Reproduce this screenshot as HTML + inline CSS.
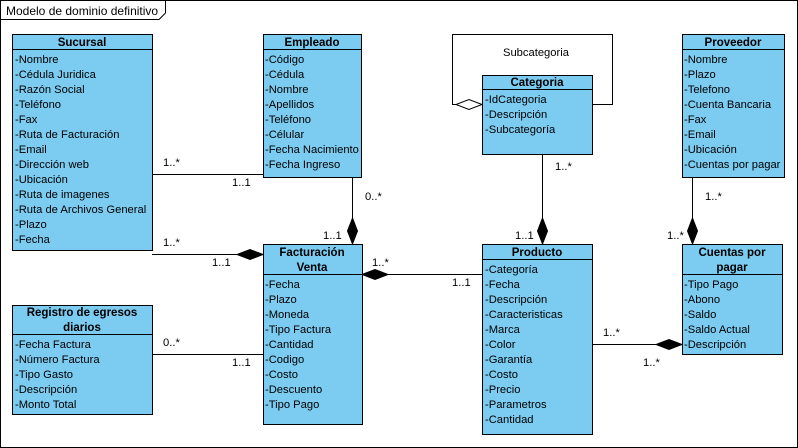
<!DOCTYPE html>
<html><head><meta charset="utf-8"><style>
html,body{margin:0;padding:0;background:#fff;}
svg{display:block;}
text{font-family:"Liberation Sans",Arial,sans-serif;font-size:11.2px;fill:#000;}
.t{font-size:12px;}
.h{font-weight:bold;text-anchor:middle;font-size:11.5px;}
.b{fill:#7ccbf0;stroke:#000;stroke-width:1;}
.l{stroke:#000;stroke-width:1;fill:none;}
.d{fill:#000;stroke:#000;}
</style></head><body>
<svg width="798" height="448" viewBox="0 0 798 448" xmlns="http://www.w3.org/2000/svg">
<rect x="0.5" y="0.5" width="797" height="447" fill="#fff" stroke="#000"/>
<path d="M0.5 19.5 H159 L165.5 13 V0.5" class="l"/>
<text class="t" x="6" y="15">Modelo de dominio definitivo</text>

<line x1="152" y1="174.5" x2="263" y2="174.5" class="l"/>
<line x1="152" y1="254.5" x2="263" y2="254.5" class="l"/>
<polygon points="263,254.5 250,249.5 237,254.5 250,259.5" class="d"/>
<line x1="352.5" y1="177" x2="352.5" y2="244" class="l"/>
<polygon points="352.5,244 347.5,231 352.5,218 357.5,231" class="d"/>
<line x1="152" y1="354.5" x2="263" y2="354.5" class="l"/>
<line x1="362" y1="274.5" x2="482" y2="274.5" class="l"/>
<polygon points="362,274.5 375,269.5 388,274.5 375,279.5" class="d"/>
<line x1="542.5" y1="154" x2="542.5" y2="244" class="l"/>
<polygon points="542.5,244 537.5,231 542.5,218 547.5,231" class="d"/>
<line x1="692.5" y1="177" x2="692.5" y2="244" class="l"/>
<polygon points="692.5,244 687.5,231 692.5,218 697.5,231" class="d"/>
<line x1="592" y1="344.5" x2="682" y2="344.5" class="l"/>
<polygon points="682,344.5 669,339.5 656,344.5 669,349.5" class="d"/>
<path d="M456 104.5 H452.5 V34.5 H612.5 V104.5 H592" class="l"/>
<polygon points="482,104.5 469,99.5 456,104.5 469,109.5" fill="#fff" stroke="#000"/>
<text x="503" y="56">Subcategoria</text>

<text x="163" y="166">1..*</text><text x="232" y="186">1..1</text>
<text x="163" y="246">1..*</text><text x="212" y="266">1..1</text>
<text x="365" y="200">0..*</text><text x="323" y="239">1..1</text>
<text x="163" y="346">0..*</text><text x="232" y="366">1..1</text>
<text x="372" y="266">1..*</text><text x="452" y="286">1..1</text>
<text x="555" y="170">1..*</text><text x="515" y="239">1..1</text>
<text x="705" y="200">1..*</text><text x="667" y="239">1..*</text>
<text x="603" y="336">1..*</text><text x="643" y="366">1..*</text>

<rect x="12.5" y="34.5" width="140" height="216" class="b"/>
<line x1="12.5" y1="49.5" x2="152.5" y2="49.5" class="l"/>
<text class="h" x="82" y="46">Sucursal</text>
<text x="15" y="63">-Nombre</text><text x="15" y="78">-Cédula Juridica</text><text x="15" y="93">-Razón Social</text>
<text x="15" y="108">-Teléfono</text><text x="15" y="123">-Fax</text><text x="15" y="138">-Ruta de Facturación</text>
<text x="15" y="153">-Email</text><text x="15" y="168">-Dirección web</text><text x="15" y="183">-Ubicación</text>
<text x="15" y="198">-Ruta de imagenes</text><text x="15" y="213">-Ruta de Archivos General</text>
<text x="15" y="228">-Plazo</text><text x="15" y="243">-Fecha</text>

<rect x="263.5" y="34.5" width="98" height="143" class="b"/>
<line x1="263.5" y1="49.5" x2="361.5" y2="49.5" class="l"/>
<text class="h" x="312" y="46">Empleado</text>
<text x="265" y="63">-Código</text><text x="265" y="78">-Cédula</text><text x="265" y="93">-Nombre</text>
<text x="265" y="108">-Apellidos</text><text x="265" y="123">-Teléfono</text><text x="265" y="138">-Célular</text>
<text x="265" y="153">-Fecha Nacimiento</text><text x="265" y="168">-Fecha Ingreso</text>

<rect x="482.5" y="75.5" width="110" height="79" class="b"/>
<line x1="482.5" y1="89.5" x2="592.5" y2="89.5" class="l"/>
<text class="h" x="537" y="86">Categoria</text>
<text x="485" y="103">-IdCategoria</text><text x="485" y="118">-Descripción</text><text x="485" y="133">-Subcategoría</text>

<rect x="682.5" y="34.5" width="102" height="143" class="b"/>
<line x1="682.5" y1="49.5" x2="784.5" y2="49.5" class="l"/>
<text class="h" x="733" y="46">Proveedor</text>
<text x="684" y="63">-Nombre</text><text x="684" y="78">-Plazo</text><text x="684" y="93">-Telefono</text>
<text x="684" y="108">-Cuenta Bancaria</text><text x="684" y="123">-Fax</text><text x="684" y="138">-Email</text>
<text x="684" y="153">-Ubicación</text><text x="684" y="168">-Cuentas por pagar</text>

<rect x="263.5" y="244.5" width="99" height="180" class="b"/>
<line x1="263.5" y1="274.5" x2="362.5" y2="274.5" class="l"/>
<text class="h" x="312" y="256">Facturación</text><text class="h" x="312" y="271">Venta</text>
<text x="265" y="288">-Fecha</text><text x="265" y="303">-Plazo</text><text x="265" y="318">-Moneda</text>
<text x="265" y="333">-Tipo Factura</text><text x="265" y="348">-Cantidad</text><text x="265" y="363">-Codigo</text>
<text x="265" y="378">-Costo</text><text x="265" y="393">-Descuento</text><text x="265" y="408">-Tipo Pago</text>

<rect x="12.5" y="305.5" width="140" height="109" class="b"/>
<line x1="12.5" y1="334.5" x2="152.5" y2="334.5" class="l"/>
<text class="h" x="82" y="316">Registro de egresos</text><text class="h" x="82" y="331">diarios</text>
<text x="15" y="348">-Fecha Factura</text><text x="15" y="363">-Número Factura</text><text x="15" y="378">-Tipo Gasto</text>
<text x="15" y="393">-Descripción</text><text x="15" y="408">-Monto Total</text>

<rect x="482.5" y="244.5" width="110" height="190" class="b"/>
<line x1="482.5" y1="259.5" x2="592.5" y2="259.5" class="l"/>
<text class="h" x="537" y="256">Producto</text>
<text x="485" y="273">-Categoría</text><text x="485" y="288">-Fecha</text><text x="485" y="303">-Descripción</text>
<text x="485" y="318">-Caracteristicas</text><text x="485" y="333">-Marca</text><text x="485" y="348">-Color</text>
<text x="485" y="363">-Garantía</text><text x="485" y="378">-Costo</text><text x="485" y="393">-Precio</text>
<text x="485" y="408">-Parametros</text><text x="485" y="423">-Cantidad</text>

<rect x="682.5" y="244.5" width="100" height="110" class="b"/>
<line x1="682.5" y1="274.5" x2="782.5" y2="274.5" class="l"/>
<text class="h" x="732" y="256">Cuentas por</text><text class="h" x="732" y="271">pagar</text>
<text x="684" y="288">-Tipo Pago</text><text x="684" y="303">-Abono</text><text x="684" y="318">-Saldo</text>
<text x="684" y="333">-Saldo Actual</text><text x="684" y="348">-Descripción</text>
</svg>
</body></html>
